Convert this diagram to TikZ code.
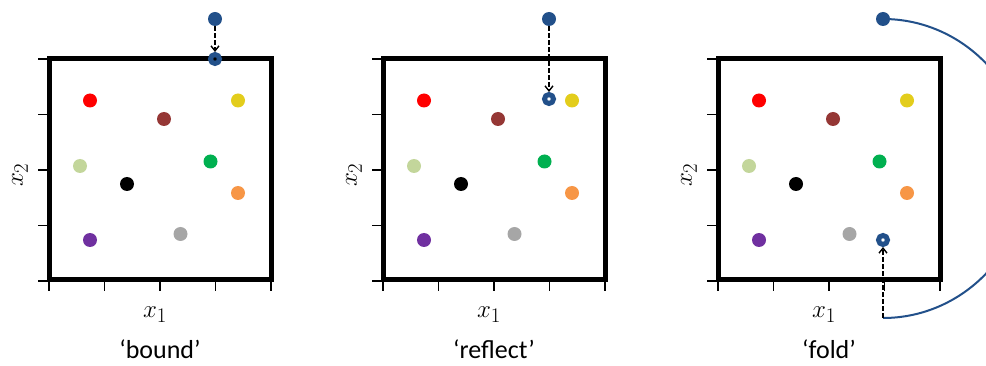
\documentclass[tikz,border=0pt]{standalone}
\usepackage{fontspec}
\newfontfamily\labelfont{Carlito}
\usetikzlibrary{arrows.meta}
\definecolor{cRed}{HTML}{FF0000}
\definecolor{cBrown}{HTML}{953735}
\definecolor{cYellow}{HTML}{E3CD1C}
\definecolor{cLight}{HTML}{C3D69B}
\definecolor{cGreen}{HTML}{00B050}
\definecolor{cOrange}{HTML}{F79646}
\definecolor{cPurple}{HTML}{7030A0}
\definecolor{cGray}{HTML}{A6A6A6}
\definecolor{cBlue}{HTML}{22508A}
\tikzset{
  dot/.style={circle, fill=#1, draw=none, minimum size=14pt, inner sep=0pt},
  ring/.style={circle, draw=cBlue, line width=5pt, minimum size=9pt, inner sep=0pt},
  frame/.style={line width=5pt, line cap=rect},
  tickmark/.style={line width=1.5pt},
  move/.style={line width=1.4pt, dash pattern=on 4.5pt off 2.5pt, -{Straight Barb[length=5pt,width=8pt]}},
  foldpath/.style={draw=cBlue, line width=2pt},
  axlabel/.style={font=\fontsize{28}{28}\selectfont, inner sep=0pt},
  title/.style={font=\labelfont\fontsize{26}{26}\selectfont, inner sep=0pt, anchor=base}
}
\begin{document}
\begin{tikzpicture}[x=1pt,y=-1pt]
\useasboundingbox (0,0) rectangle (986,366);
\clip (0,0) rectangle (986,366);
\foreach \dx/\nm/\ttl in {0/a/{‘bound’}, 334/b/{‘reflect’}, 669/c/{‘fold’}} {
  \begin{scope}[xshift=\dx pt]
    \foreach \ty in {59,114.5,170,225.5,281}
      \draw[tickmark] (38,\ty) -- (49,\ty);
    \foreach \tx in {49,104.5,160,215.5,271}
      \draw[tickmark] (\tx,280) -- (\tx,291);
    \draw[frame] (49,59) rectangle (271,280);
    \node[dot=cRed]    (\nm red)    at (90,100.5) {};
    \node[dot=cBrown]  (\nm brown)  at (164,119) {};
    \node[dot=cYellow] (\nm yellow) at (238,100.5) {};
    \node[dot=cLight]  (\nm light)  at (80,166) {};
    \node[dot=cGreen]  (\nm green)  at (210.5,161.5) {};
    \node[dot=black]   (\nm black)  at (127,184) {};
    \node[dot=cOrange] (\nm orange) at (238,193) {};
    \node[dot=cPurple] (\nm purple) at (90,240) {};
    \node[dot=cGray]   (\nm gray)   at (180.5,234) {};
    \node[axlabel, rotate=90] (\nm y) at (20,175) {$x_2$};
    \node[axlabel] (\nm x) at (155,315) {$x_1$};
    \node[title] (\nm t) at (160,358) {\ttl};
  \end{scope}
}
% bound
\node[dot=cBlue] (aTop) at (215,19) {};
\node[ring] (aNew) at (215,59) {};
\draw[move] (aTop) -- (aNew);
% reflect
\node[dot=cBlue] (bTop) at (549,19) {};
\node[ring] (bNew) at (549,99) {};
\draw[move] (bTop) -- (bNew);
% fold
\node[dot=cBlue] (cTop) at (883,19) {};
\node[ring] (cNew) at (883,240) {};
\coordinate (cBot) at (883,318);
\draw[foldpath] (cTop.center) .. controls (963,19) and (1028,86) .. (1028,168.5)
  .. controls (1028,251) and (963,318) .. (cBot);
\draw[move] (cBot) -- (cNew);
\end{tikzpicture}
\end{document}
